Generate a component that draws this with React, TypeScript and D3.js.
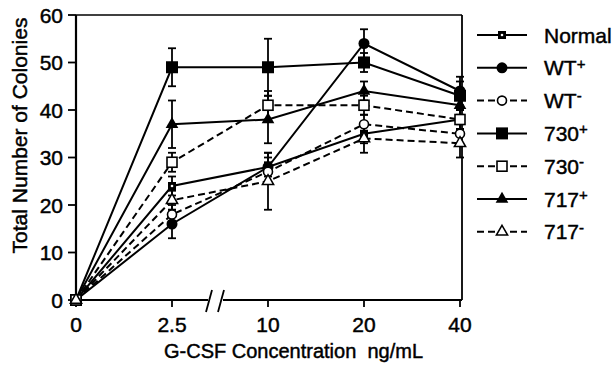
import React from "react";
import * as d3 from "d3";

// G-CSF concentrations (evenly spaced categories on the x axis)
const categories = ["0", "2.5", "10", "20", "40"];
const yTicks = [0, 10, 20, 30, 40, 50, 60];

// Colony counts per cell line
const normalValues = [0, 24, 28, 35, 38];
const wtPlusValues = [0, 16, 28, 54, 44];
const wtMinusValues = [0, 18, 27, 37, 35];
const c730PlusValues = [0, 49, 49, 50, 43];
const c730MinusValues = [0, 29, 41, 41, 38];
const c717PlusValues = [0, 37, 38, 44, 41];
const c717MinusValues = [0, 21, 25, 34, 33];

// Error bar half-widths
const normalErr = [0, 2, 2, 2, 2];
const wtPlusErr = [0, 3, 3, 3, 3];
const wtMinusErr = [0, 2, 2, 2, 2];
const c730PlusErr = [0, 4, 6, 2, 3];
const c730MinusErr = [0, 2, 3, 2, 2];
const c717PlusErr = [0, 5, 5, 2, 2];
const c717MinusErr = [0, 2, 6, 3, 3];

type Marker = "smallSquare" | "circle" | "openCircle" | "square" | "openSquare" | "triangle" | "openTriangle";

interface Series {
  name: string;
  sup?: string;
  values: number[];
  errors: number[];
  dashed: boolean;
  marker: Marker;
}

const series: Series[] = [
  { name: "Normal", values: normalValues, errors: normalErr, dashed: false, marker: "smallSquare" },
  { name: "WT", sup: "+", values: wtPlusValues, errors: wtPlusErr, dashed: false, marker: "circle" },
  { name: "WT", sup: "-", values: wtMinusValues, errors: wtMinusErr, dashed: true, marker: "openCircle" },
  { name: "730", sup: "+", values: c730PlusValues, errors: c730PlusErr, dashed: false, marker: "square" },
  { name: "730", sup: "-", values: c730MinusValues, errors: c730MinusErr, dashed: true, marker: "openSquare" },
  { name: "717", sup: "+", values: c717PlusValues, errors: c717PlusErr, dashed: false, marker: "triangle" },
  { name: "717", sup: "-", values: c717MinusValues, errors: c717MinusErr, dashed: true, marker: "openTriangle" },
];

const FONT = "Arial, 'Liberation Sans', Helvetica, sans-serif";
const TEXT_STROKE = 0.45;

const left = 76;
const right = 462;
const top = 15;
const bottom = 300;

const x = d3.scalePoint<string>().domain(categories).range([left, 460]);
const y = d3.scaleLinear().domain([0, 60]).range([bottom, top]);

function MarkerShape({ kind, cx, cy }: { kind: Marker; cx: number; cy: number }) {
  switch (kind) {
    case "smallSquare":
      return (
        <g>
          <rect x={cx - 4} y={cy - 4} width={8} height={8} fill="#000" />
          <circle cx={cx} cy={cy} r={1.3} fill="#fff" />
        </g>
      );
    case "circle":
      return <circle cx={cx} cy={cy} r={5.5} fill="#000" />;
    case "openCircle":
      return <circle cx={cx} cy={cy} r={4.5} fill="#fff" stroke="#000" strokeWidth={1.6} />;
    case "square":
      return <rect x={cx - 6} y={cy - 6} width={12} height={12} fill="#000" />;
    case "openSquare":
      return <rect x={cx - 5} y={cy - 5} width={10} height={10} fill="#fff" stroke="#000" strokeWidth={1.6} />;
    case "triangle": {
      const p = d3.symbol(d3.symbolTriangle, 70)()!;
      return <path d={p} transform={`translate(${cx},${cy})`} fill="#000" />;
    }
    case "openTriangle": {
      const p = d3.symbol(d3.symbolTriangle, 55)()!;
      return <path d={p} transform={`translate(${cx},${cy})`} fill="#fff" stroke="#000" strokeWidth={1.5} />;
    }
  }
}

export default function App() {
  const line = d3
    .line<number>()
    .x((_, i) => x(categories[i])!)
    .y((d) => y(d));

  const breakLeft = 208;
  const breakRight = 223;
  const legendX0 = 477;
  const legendX1 = 527;
  const legendY0 = 35;
  const legendStep = 32.8;

  return (
    <svg width={615} height={365} style={{ position: "absolute", left: 0, top: 0, background: "#fff" }} fontFamily={FONT}>
      {/* frame: left axis, top, right, bottom axis with break */}
      <line x1={left} y1={top} x2={left} y2={bottom} stroke="#000" strokeWidth={2.2} />
      <line x1={left} y1={top} x2={right} y2={top} stroke="#000" strokeWidth={1.6} />
      <line x1={right} y1={top} x2={right} y2={bottom} stroke="#000" strokeWidth={1.8} />
      <line x1={left} y1={bottom} x2={breakLeft} y2={bottom} stroke="#000" strokeWidth={2.2} />
      <line x1={breakRight} y1={bottom} x2={right} y2={bottom} stroke="#000" strokeWidth={2.2} />
      <line x1={breakLeft - 2} y1={bottom + 12} x2={breakLeft + 4} y2={bottom - 10} stroke="#000" strokeWidth={1.8} />
      <line x1={breakRight - 5} y1={bottom + 12} x2={breakRight + 1} y2={bottom - 10} stroke="#000" strokeWidth={1.8} />

      <g fill="#000" stroke="#000" strokeWidth={TEXT_STROKE}>
        {/* y ticks */}
        {yTicks.map((t) => (
          <g key={t}>
            <line x1={left - 8} y1={y(t)} x2={left} y2={y(t)} strokeWidth={1.8} />
            <text x={left - 13} y={y(t)} dy="0.36em" textAnchor="end" fontSize={21}>
              {t}
            </text>
          </g>
        ))}

        {/* x ticks */}
        {categories.map((c) => (
          <g key={c}>
            <line x1={x(c)!} y1={bottom} x2={x(c)!} y2={bottom + 7} strokeWidth={1.8} />
            <text x={x(c)!} y={332} textAnchor="middle" fontSize={21}>
              {c}
            </text>
          </g>
        ))}

        {/* axis titles */}
        <text x={164} y={358} fontSize={20}>
          G-CSF Concentration{"\u00a0\u00a0"}ng/mL
        </text>
        <text transform={`translate(27,${(top + bottom) / 2 - 22}) rotate(-90)`} textAnchor="middle" fontSize={21}>
          Total Number of Colonies
        </text>
      </g>

      {/* series lines */}
      {series.map((s, i) => (
        <path
          key={`l${i}`}
          d={line(s.values)!}
          fill="none"
          stroke="#000"
          strokeWidth={2}
          strokeDasharray={s.dashed ? "7,4" : undefined}
        />
      ))}

      {/* error bars */}
      {series.map((s, i) =>
        s.values.map((v, j) =>
          s.errors[j] > 0 ? (
            <g key={`e${i}-${j}`} stroke="#000" strokeWidth={1.8}>
              <line x1={x(categories[j])!} x2={x(categories[j])!} y1={y(v - s.errors[j])} y2={y(v + s.errors[j])} />
              <line x1={x(categories[j])! - 4} x2={x(categories[j])! + 4} y1={y(v + s.errors[j])} y2={y(v + s.errors[j])} />
              <line x1={x(categories[j])! - 4} x2={x(categories[j])! + 4} y1={y(v - s.errors[j])} y2={y(v - s.errors[j])} />
            </g>
          ) : null
        )
      )}

      {/* markers */}
      {series.map((s, i) =>
        s.values.map((v, j) => <MarkerShape key={`m${i}-${j}`} kind={s.marker} cx={x(categories[j])!} cy={y(v)} />)
      )}

      {/* legend */}
      {series.map((s, i) => {
        const ly = legendY0 + i * legendStep;
        return (
          <g key={`lg${i}`}>
            <line
              x1={legendX0}
              x2={legendX1}
              y1={ly}
              y2={ly}
              stroke="#000"
              strokeWidth={2}
              strokeDasharray={s.dashed ? "7,4" : undefined}
            />
            <MarkerShape kind={s.marker} cx={(legendX0 + legendX1) / 2} cy={ly} />
            <text x={544} y={ly} dy="0.36em" fontSize={21} fill="#000" stroke="#000" strokeWidth={TEXT_STROKE}>
              {s.name}
              {s.sup ? (
                <tspan dy="-0.45em" fontSize={15}>
                  {s.sup}
                </tspan>
              ) : null}
            </text>
          </g>
        );
      })}
    </svg>
  );
}
